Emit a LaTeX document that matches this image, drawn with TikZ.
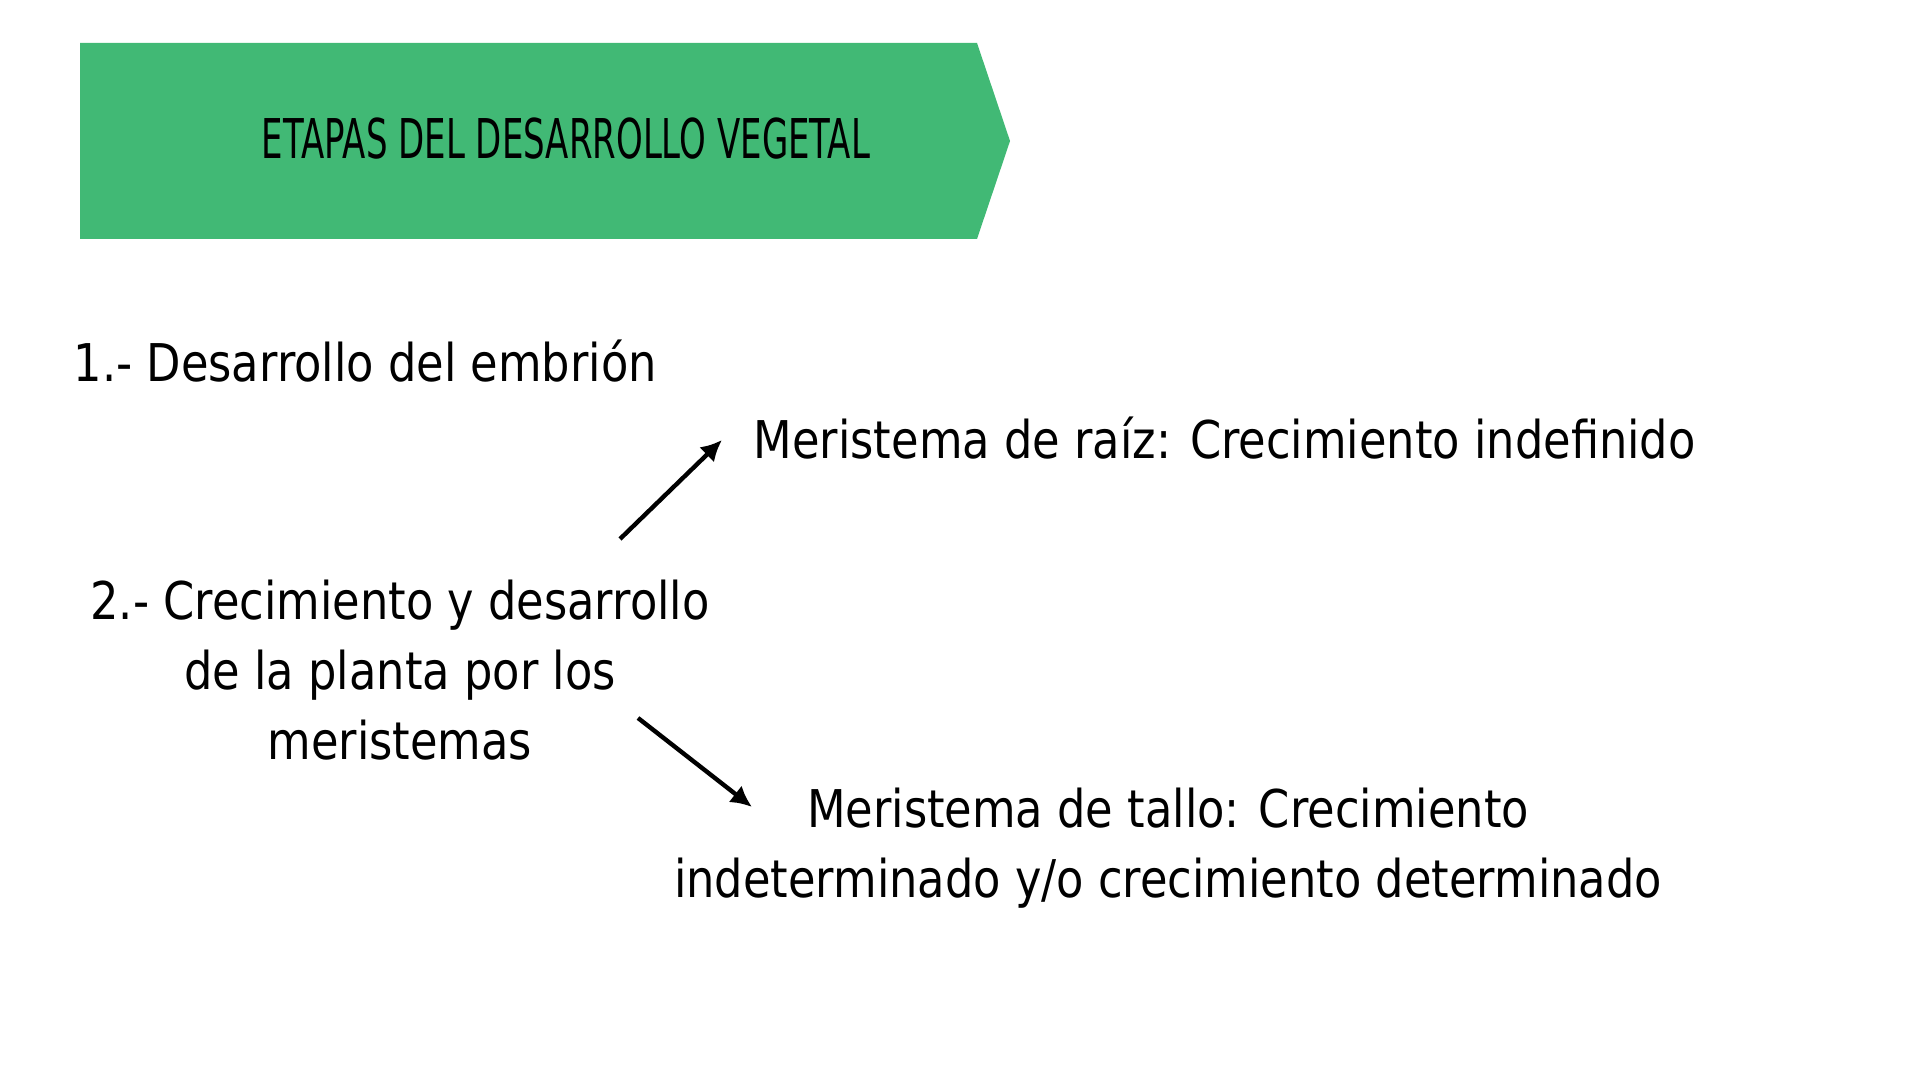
\documentclass[tikz,border=0pt]{standalone}
\usepackage{fontspec}
\setmainfont{DejaVu Sans}[FakeStretch=0.86]
\newfontfamily\titlefont{DejaVu Sans}[FakeStretch=0.62]
\usetikzlibrary{positioning}
\usetikzlibrary{arrows.meta}
\definecolor{etapagreen}{RGB}{65,185,117}

\begin{document}
\begin{tikzpicture}
        \tikzset{edge/.style = {-{Latex[length=6pt,width=6pt]}, line width=1.25pt}}
        \tikzset{body/.style = {inner sep=0pt, font=\fontsize{14.8pt}{19.9pt}\selectfont}}

        \useasboundingbox (0,0) rectangle (19.2,10.8);
        \fill[white] (0,0) rectangle (19.2,10.8);

        % banner
        \fill[etapagreen] (0.80,10.37) -- (9.77,10.37) -- (10.10,9.39) -- (9.77,8.41) -- (0.80,8.41) -- cycle;
        \node[anchor=base west, inner sep=0pt, font=\titlefont\fontsize{15.6pt}{18pt}\selectfont] (title) at (2.61,9.21) {ETAPAS DEL DESARROLLO VEGETAL};

        % stages
        \node[body, anchor=base west] (1) at (0.73,6.98) {1.- Desarrollo del embrión};
        \node[body, align=center] (2) at (4.00,4.10) {2.- Crecimiento y desarrollo\\de la planta por los\\meristemas};

        % meristems
        \node[body, anchor=base west] (raiz) at (7.53,6.21) {Meristema de raíz: Crecimiento indefinido};
        \node[body, align=center] (tallo) at (11.68,2.32) {Meristema de tallo: Crecimiento\\indeterminado y/o crecimiento determinado};

        % arrows
        \coordinate (up1) at (6.20,5.41);
        \coordinate (up2) at (7.22,6.40);
        \coordinate (down1) at (6.38,3.62);
        \coordinate (down2) at (7.52,2.73);
        \draw[edge] (up1) -- (up2);
        \draw[edge] (down1) -- (down2);

\end{tikzpicture}
\end{document}
